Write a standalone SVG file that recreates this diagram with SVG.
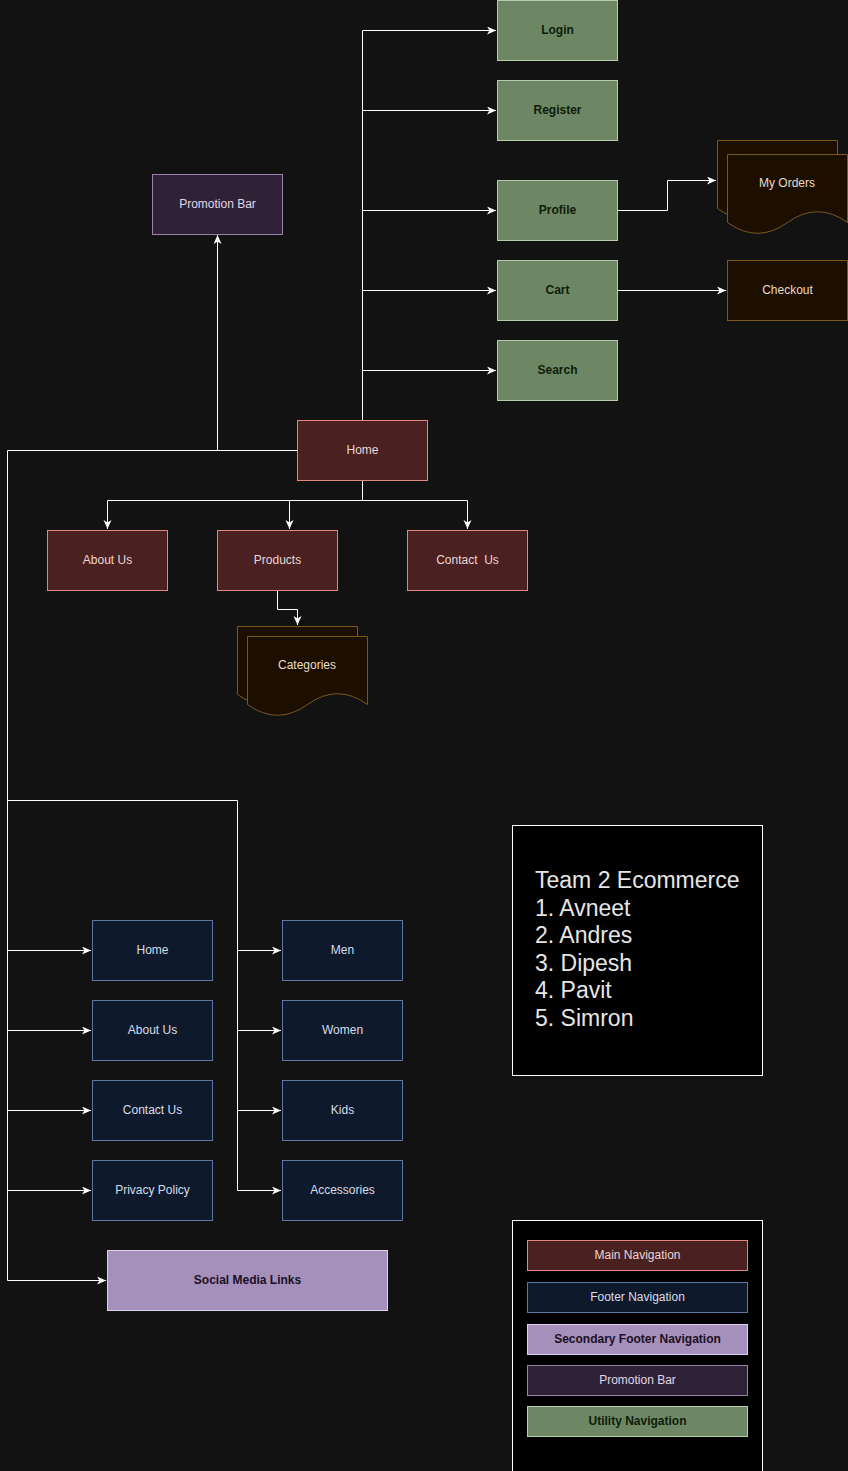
<svg xmlns="http://www.w3.org/2000/svg" width="848" height="1471" viewBox="0 0 848 1471">
<defs>
<style>
.t{font-family:"Liberation Sans",Arial,Helvetica,sans-serif;font-size:12px;text-anchor:middle}
.b{font-weight:bold}
.main rect{fill:#4b2020;stroke:#e0877f;stroke-width:1}
.main text{fill:#ead6d6}
.util rect{fill:#6d8764;stroke:#b6ccad;stroke-width:1}
.util text{fill:#0e1d0a}
.foot rect{fill:#0e1a2c;stroke:#5b78a2;stroke-width:1}
.foot text{fill:#d6dde9}
.promo rect{fill:#2f2237;stroke:#9b80aa;stroke-width:1}
.promo text{fill:#e2d6e8}
.sec rect{fill:#a58fbb;stroke:#ddd0ee;stroke-width:1}
.sec text{fill:#1b1024}
.doc path,.doc rect{fill:#1d0f00;stroke:#77591c;stroke-width:1}
.doc text{fill:#e6dcc6}
.edge{fill:none;stroke:#ffffff;stroke-width:1}
.team{font-family:"Liberation Sans",Arial,Helvetica,sans-serif;font-size:23px;fill:#e6e6e6}
</style>
<marker id="arr" markerUnits="userSpaceOnUse" markerWidth="12" markerHeight="10" refX="9" refY="4" orient="auto">
<path d="M0,0 L9,4 L0,8 L2.5,4 z" fill="#ffffff"/>
</marker>
</defs>
<rect x="0" y="0" width="848" height="1471" fill="#121212"/>

<g id="connectors">
<path class="edge" d="M362.5,420 V30.5 H496" marker-end="url(#arr)"/>
<path class="edge" d="M362.5,110.5 H496" marker-end="url(#arr)"/>
<path class="edge" d="M362.5,210.5 H496" marker-end="url(#arr)"/>
<path class="edge" d="M362.5,290.5 H496" marker-end="url(#arr)"/>
<path class="edge" d="M362.5,370.5 H496" marker-end="url(#arr)"/>
<path class="edge" d="M617,210.5 H667.5 V180.5 H716" marker-end="url(#arr)"/>
<path class="edge" d="M617,290.5 H726" marker-end="url(#arr)"/>
<path class="edge" d="M297,450.5 H217.5 V235" marker-end="url(#arr)"/>
<path class="edge" d="M362.5,480 V500.5 H107.5 V529" marker-end="url(#arr)"/>
<path class="edge" d="M289.5,500.5 V529" marker-end="url(#arr)"/>
<path class="edge" d="M362.5,500.5 H467.5 V529" marker-end="url(#arr)"/>
<path class="edge" d="M277.5,590 V609.5 H297.5 V625" marker-end="url(#arr)"/>
<path class="edge" d="M297,450.5 H7.5 V1280.5 H106" marker-end="url(#arr)"/>
<path class="edge" d="M7.5,950.5 H91" marker-end="url(#arr)"/>
<path class="edge" d="M7.5,1030.5 H91" marker-end="url(#arr)"/>
<path class="edge" d="M7.5,1110.5 H91" marker-end="url(#arr)"/>
<path class="edge" d="M7.5,1190.5 H91" marker-end="url(#arr)"/>
<path class="edge" d="M7.5,800.5 H237.5 V1190.5 H281" marker-end="url(#arr)"/>
<path class="edge" d="M237.5,950.5 H281" marker-end="url(#arr)"/>
<path class="edge" d="M237.5,1030.5 H281" marker-end="url(#arr)"/>
<path class="edge" d="M237.5,1110.5 H281" marker-end="url(#arr)"/>
</g>

<g id="login" class="util"><rect x="497.5" y="0.5" width="120" height="60"/><text class="t b" x="557.5" y="34">Login</text></g>
<g id="register" class="util"><rect x="497.5" y="80.5" width="120" height="60"/><text class="t b" x="557.5" y="114">Register</text></g>
<g id="profile" class="util"><rect x="497.5" y="180.5" width="120" height="60"/><text class="t b" x="557.5" y="214">Profile</text></g>
<g id="cart" class="util"><rect x="497.5" y="260.5" width="120" height="60"/><text class="t b" x="557.5" y="294">Cart</text></g>
<g id="search" class="util"><rect x="497.5" y="340.5" width="120" height="60"/><text class="t b" x="557.5" y="374">Search</text></g>

<g id="my-orders" class="doc">
<path d="M717.5,140.5 H837.5 V208.5 Q807.5,186.9 777.5,208.5 Q747.5,230.1 717.5,208.5 Z"/>
<path d="M727.5,154.5 H847.5 V222.5 Q817.5,200.9 787.5,222.5 Q757.5,244.1 727.5,222.5 Z"/>
<text class="t" x="787" y="187">My Orders</text>
</g>
<g id="checkout" class="doc"><rect x="727.5" y="260.5" width="120" height="60"/><text class="t" x="787.5" y="294">Checkout</text></g>

<g id="promotion-bar" class="promo"><rect x="152.5" y="174.5" width="130" height="60"/><text class="t" x="217.5" y="208">Promotion Bar</text></g>

<g id="home" class="main"><rect x="297.5" y="420.5" width="130" height="60"/><text class="t" x="362.5" y="454">Home</text></g>
<g id="about-us" class="main"><rect x="47.5" y="530.5" width="120" height="60"/><text class="t" x="107.5" y="564">About Us</text></g>
<g id="products" class="main"><rect x="217.5" y="530.5" width="120" height="60"/><text class="t" x="277.5" y="564">Products</text></g>
<g id="contact-us" class="main"><rect x="407.5" y="530.5" width="120" height="60"/><text class="t" x="467.5" y="564" xml:space="preserve">Contact  Us</text></g>

<g id="categories" class="doc">
<path d="M237.5,626.5 H357.5 V694.5 Q327.5,672.9 297.5,694.5 Q267.5,716.1 237.5,694.5 Z"/>
<path d="M247.5,636.5 H367.5 V704.5 Q337.5,682.9 307.5,704.5 Q277.5,726.1 247.5,704.5 Z"/>
<text class="t" x="307" y="669">Categories</text>
</g>

<g id="f-home" class="foot"><rect x="92.5" y="920.5" width="120" height="60"/><text class="t" x="152.5" y="954">Home</text></g>
<g id="f-about" class="foot"><rect x="92.5" y="1000.5" width="120" height="60"/><text class="t" x="152.5" y="1034">About Us</text></g>
<g id="f-contact" class="foot"><rect x="92.5" y="1080.5" width="120" height="60"/><text class="t" x="152.5" y="1114">Contact Us</text></g>
<g id="f-privacy" class="foot"><rect x="92.5" y="1160.5" width="120" height="60"/><text class="t" x="152.5" y="1194">Privacy Policy</text></g>
<g id="f-men" class="foot"><rect x="282.5" y="920.5" width="120" height="60"/><text class="t" x="342.5" y="954">Men</text></g>
<g id="f-women" class="foot"><rect x="282.5" y="1000.5" width="120" height="60"/><text class="t" x="342.5" y="1034">Women</text></g>
<g id="f-kids" class="foot"><rect x="282.5" y="1080.5" width="120" height="60"/><text class="t" x="342.5" y="1114">Kids</text></g>
<g id="f-accessories" class="foot"><rect x="282.5" y="1160.5" width="120" height="60"/><text class="t" x="342.5" y="1194">Accessories</text></g>

<g id="social" class="sec"><rect x="107.5" y="1250.5" width="280" height="60"/><text class="t b" x="247.5" y="1284">Social Media Links</text></g>

<g id="team">
<rect x="512.5" y="825.5" width="250" height="250" fill="#000000" stroke="#ffffff" stroke-width="1"/>
<text class="team" x="535" y="888">Team 2 Ecommerce</text>
<text class="team" x="535" y="915.6">1. Avneet</text>
<text class="team" x="535" y="943.2">2. Andres</text>
<text class="team" x="535" y="970.8">3. Dipesh</text>
<text class="team" x="535" y="998.4">4. Pavit</text>
<text class="team" x="535" y="1026">5. Simron</text>
</g>

<g id="legend">
<rect x="512.5" y="1220.5" width="250" height="260" fill="#000000" stroke="#ffffff" stroke-width="1"/>
<g class="main"><rect x="527.5" y="1240.5" width="220" height="30"/><text class="t" x="637.5" y="1259">Main Navigation</text></g>
<g class="foot"><rect x="527.5" y="1282.5" width="220" height="30"/><text class="t" x="637.5" y="1301">Footer Navigation</text></g>
<g class="sec"><rect x="527.5" y="1324.5" width="220" height="30"/><text class="t b" x="637.5" y="1343">Secondary Footer Navigation</text></g>
<g class="promo"><rect x="527.5" y="1365.5" width="220" height="30"/><text class="t" x="637.5" y="1384">Promotion Bar</text></g>
<g class="util"><rect x="527.5" y="1406.5" width="220" height="30"/><text class="t b" x="637.5" y="1425">Utility Navigation</text></g>
</g>
</svg>
